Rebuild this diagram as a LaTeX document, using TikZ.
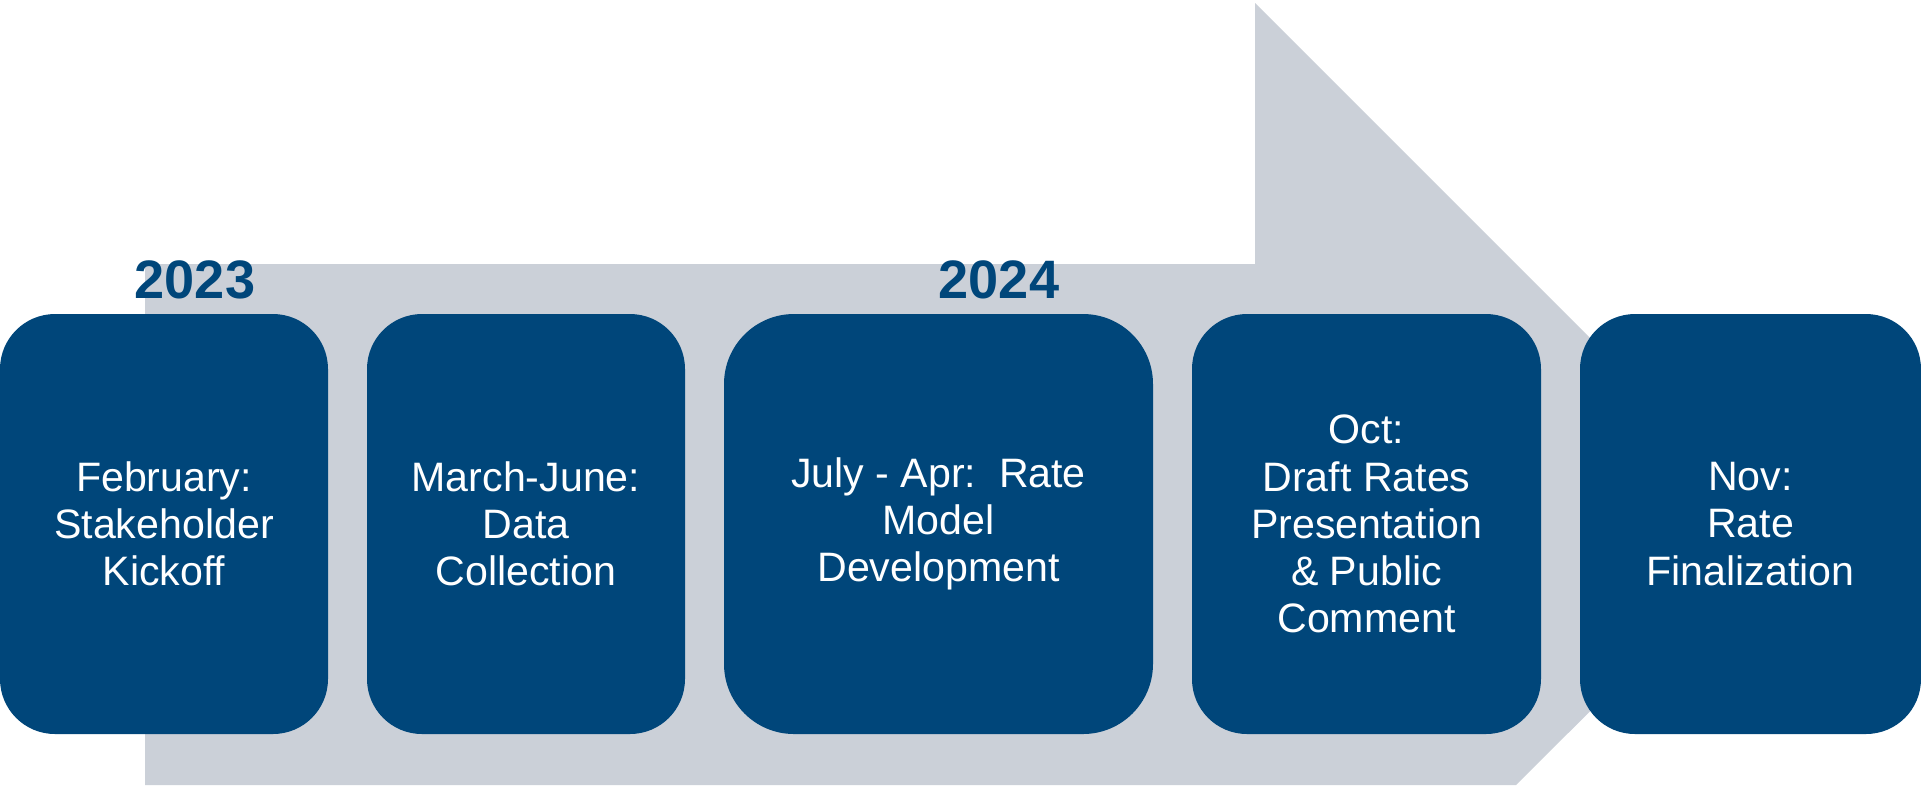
\documentclass[tikz,border=0pt]{standalone}
\usepackage{fontspec}
\setmainfont{Liberation Sans}
\usetikzlibrary{positioning}
\definecolor{stageblue}{RGB}{0,70,122}
\definecolor{arrowgray}{RGB}{203,208,216}

\begin{document}
\begin{tikzpicture}
[x=0.1mm, y=-0.1mm, node distance=3.9mm,
  stage/.style={rectangle, rounded corners=5.5mm, fill=stageblue, text=white, align=center,
    minimum height=42mm, inner sep=0pt, outer sep=0pt, font=\fontsize{11.7}{13.4}\selectfont},
  yearlabel/.style={anchor=base, text=stageblue, font=\bfseries\fontsize{15.4}{18}\selectfont}
]
  \useasboundingbox (0,0) rectangle (1921,786);
  \fill[arrowgray] (145,264) -- (1255,264) -- (1255,3) -- (1777,525) -- (1516,785) -- (145,785) -- cycle;

  \node[stage, minimum width=32.8mm] (feb) at (164,524) {February:\\Stakeholder\\Kickoff};
  \node[stage, minimum width=31.8mm, right=of feb] (marjun) {March-June:\\Data\\Collection};
  \node[stage, minimum width=42.9mm, rounded corners=7mm, right=of marjun] (julapr) {July - Apr:\ \ Rate\\Model\\Development};
  \node[stage, minimum width=34.9mm, right=of julapr] (oct) {Oct:\\Draft Rates\\Presentation\\\& Public\\Comment};
  \node[stage, minimum width=34.1mm, right=of oct] (nov) {Nov:\\Rate\\Finalization};

  \node[yearlabel] (y2023) at (195,298) {2023};
  \node[yearlabel] (y2024) at (999,298) {2024};
\end{tikzpicture}
\end{document}
